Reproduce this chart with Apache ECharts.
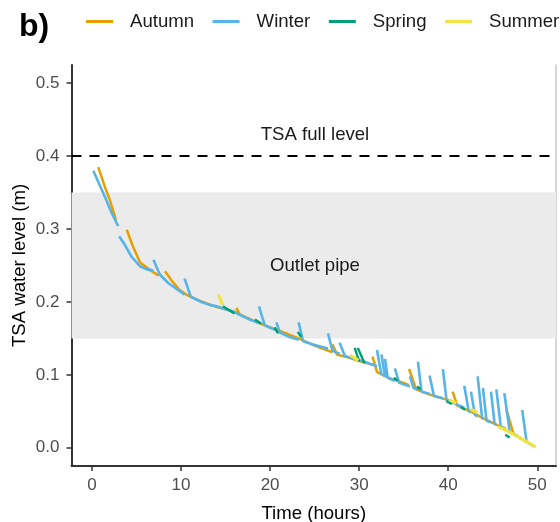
<!DOCTYPE html>
<html>
<head>
<meta charset="utf-8">
<script src="https://cdn.jsdelivr.net/npm/echarts@6/dist/echarts.min.js"></script>
<style>
html,body{margin:0;padding:0;background:#fff;}
#chart{width:560px;height:522px;}
</style>
</head>
<body>
<div id="chart"></div>
<script>
// ---- data (time in hours, TSA water level in m); null = break in line ----
const seasons = ['Autumn', 'Winter', 'Spring', 'Summer'];
const seasonColors = ['#E69F00', '#56B4E9', '#009E73', '#F0E442'];

const autumn = [
  [0.7,0.385],[1.5,0.356],[2.0,0.340],[2.7,0.312],null,
  [3.9,0.299],[4.6,0.276],[5.4,0.254],[6.5,0.244],[7.5,0.236],null,
  [8.2,0.242],[8.9,0.230],[9.8,0.217],[10.6,0.210],[12.0,0.202],[14.0,0.193],[16.2,0.186],null,
  [16.2,0.192],[16.6,0.183],[18.0,0.175],[20.0,0.165],[22.0,0.156],[23.0,0.151],[25.0,0.140],[27.0,0.131],null,
  [27.0,0.142],[27.5,0.128],[28.7,0.124],[30.3,0.118],[31.5,0.114],null,
  [31.5,0.125],[32.0,0.104],[32.6,0.100],[33.5,0.095],[35.0,0.089],[35.6,0.086],null,
  [35.6,0.108],[36.4,0.080],[37.9,0.073],[39.8,0.066],[40.5,0.062],null,
  [40.5,0.077],[41.0,0.058],[42.5,0.050],[44.0,0.040],[45.5,0.031],[46.5,0.026],null,
  [46.5,0.054],[47.3,0.020],[48.5,0.010],[49.7,0.002]
];

const winter = [
  [0.15,0.380],[1.46,0.344],[2.21,0.322],[2.95,0.304],null,
  [3.05,0.290],[3.70,0.278],[4.45,0.262],[5.38,0.249],[6.1,0.245],[6.9,0.243],null,
  [6.9,0.258],[7.6,0.238],[8.55,0.226],[9.5,0.218],[10.4,0.210],null,
  [10.4,0.232],[11.1,0.207],[12.3,0.200],[13.2,0.196],[14.0,0.194],[15.0,0.190],[15.84,0.187],
  [16.8,0.181],[17.7,0.176],[18.75,0.171],null,
  [18.75,0.194],[19.4,0.168],[20.7,0.161],null,
  [20.7,0.172],[21.1,0.158],[22.2,0.152],[23.2,0.148],null,
  [23.2,0.172],[23.7,0.146],[25.0,0.141],[26.5,0.136],null,
  [26.5,0.157],[27.0,0.133],[27.8,0.129],null,
  [27.8,0.144],[28.4,0.126],[29.5,0.122],[30.6,0.118],[31.5,0.114],[32.0,0.112],null,
  [32.0,0.134],[32.5,0.100],null,
  [32.5,0.128],[32.9,0.097],null,
  [32.9,0.122],[33.2,0.096],[34.0,0.092],null,
  [34.0,0.109],[34.5,0.089],[35.7,0.084],null,
  [35.7,0.098],[36.1,0.082],[36.6,0.080],null,
  [36.6,0.118],[37.0,0.077],[37.9,0.074],null,
  [37.9,0.099],[38.4,0.071],[39.4,0.068],null,
  [39.4,0.108],[39.8,0.066],[40.8,0.060],[41.8,0.055],null,
  [41.8,0.085],[42.3,0.050],[42.55,0.049],null,
  [42.55,0.077],[43.0,0.045],[43.3,0.043],null,
  [43.3,0.098],[43.8,0.041],[43.9,0.039],null,
  [43.9,0.082],[44.3,0.037],[44.8,0.035],null,
  [44.8,0.077],[45.2,0.033],[45.4,0.032],null,
  [45.4,0.080],[45.9,0.029],[46.3,0.027],null,
  [46.3,0.075],[46.9,0.022],[47.5,0.018],[48.3,0.012],null,
  [48.3,0.052],[48.8,0.008],[49.5,0.003]
];

const spring = [
  [14.7,0.194],[15.5,0.188],[16.0,0.184],null,
  [18.3,0.176],[19.0,0.170],null,
  [20.5,0.165],[20.9,0.157],null,
  [23.1,0.159],[23.5,0.152],null,
  [29.5,0.137],[30.0,0.118],null,
  [29.85,0.137],[30.6,0.116],null,
  [33.9,0.096],[34.3,0.092],null,
  [36.5,0.084],[36.9,0.080],null,
  [39.8,0.064],[40.4,0.060],null,
  [41.4,0.056],[41.9,0.052],null,
  [46.4,0.018],[46.9,0.014]
];

const summer = [
  [14.2,0.210],[14.7,0.195],null,
  [29.0,0.127],[29.9,0.120],null,
  [40.1,0.066],[40.9,0.061],null,
  [42.5,0.053],[43.3,0.048],null,
  [45.6,0.029],[46.5,0.024],[47.4,0.018],[48.4,0.011],[49.3,0.005],[49.8,0.001]
];

const seasonData = [autumn, winter, spring, summer];
const seasonWidths = [2.5, 2.6, 2.4, 3.2];

const xTicks = [0, 10, 20, 30, 40, 50];
const yTicks = [0, 0.1, 0.2, 0.3, 0.4, 0.5];

const fullLevel = 0.4;
const outletBand = [0.15, 0.35];
const annotations = [
  {text: 'TSA full level', t: 25.04, level: 0.429},
  {text: 'Outlet pipe', t: 25.04, level: 0.249}
];

// ---- chart ----
const FONT = 'Liberation Sans, Arial, Helvetica, sans-serif';
const chart = echarts.init(document.getElementById('chart'), null, {renderer: 'canvas'});

const toSeriesData = arr => arr.map(p => p === null ? ['-', '-'] : p);

const series = [{
  name: '__ref',
  type: 'line',
  data: [],
  z: 1,
  silent: true,
  markArea: {
    silent: true,
    itemStyle: {color: '#ebebeb'},
    data: [[{yAxis: outletBand[0]}, {yAxis: outletBand[1]}]]
  },
  markLine: {
    silent: true,
    symbol: 'none',
    label: {show: false},
    lineStyle: {color: '#000', width: 2, type: [10, 8]},
    data: [{yAxis: fullLevel}]
  },
  markPoint: {
    silent: true,
    symbol: 'circle',
    symbolSize: 0,
    label: {
      show: true,
      position: 'inside',
      color: '#1a1a1a',
      fontSize: 18.6,
      fontFamily: FONT,
      formatter: p => p.name
    },
    data: annotations.map(a => ({name: a.text, coord: [a.t, a.level]}))
  }
}];

seasons.forEach((s, i) => {
  series.push({
    name: s,
    type: 'line',
    data: toSeriesData(seasonData[i]),
    showSymbol: false,
    symbol: 'none',
    connectNulls: false,
    color: seasonColors[i],
    lineStyle: {color: seasonColors[i], width: seasonWidths[i]},
    z: 3 + i
  });
});

chart.setOption({
  animation: false,
  backgroundColor: '#fff',
  title: {
    text: 'b)',
    left: 14,
    top: 6,
    textStyle: {fontSize: 32, fontWeight: 'bold', color: '#000', fontFamily: FONT}
  },
  legend: {
    data: seasons,
    left: 86,
    top: 12,
    width: 520,
    padding: 0,
    icon: 'rect',
    itemWidth: 27,
    itemHeight: 3,
    itemGap: 18.5,
    textStyle: {fontSize: 18.6, color: '#1a1a1a', fontFamily: FONT, padding: [0, 0, 0, 12]}
  },
  grid: {left: 71.5, right: 4, top: 65, bottom: 56, containLabel: false, outerBoundsMode: 'none'},
  xAxis: {
    type: 'value',
    min: -2.3,
    max: 52.1,
    name: 'Time (hours)',
    nameLocation: 'middle',
    nameGap: 38,
    nameMoveOverlap: false,
    nameTextStyle: {fontSize: 18.6, color: '#000', fontFamily: FONT},
    axisLine: {show: true, onZero: false, lineStyle: {color: '#333', width: 2}},
    axisTick: {show: true, length: 5, lineStyle: {color: '#333', width: 1.5}, customValues: xTicks},
    axisLabel: {fontSize: 17, color: '#4d4d4d', fontFamily: FONT, margin: 11, customValues: xTicks},
    splitLine: {show: false}
  },
  yAxis: [{
    type: 'value',
    min: -0.025,
    max: 0.525,
    name: 'TSA water level (m)',
    nameLocation: 'middle',
    nameGap: 42,
    nameMoveOverlap: false,
    nameTextStyle: {fontSize: 18.6, color: '#000', fontFamily: FONT},
    axisLine: {show: true, onZero: false, lineStyle: {color: '#333', width: 2}},
    axisTick: {show: true, length: 5, lineStyle: {color: '#333', width: 1.5}, customValues: yTicks},
    axisLabel: {fontSize: 17, color: '#4d4d4d', fontFamily: FONT, margin: 12,
                customValues: yTicks, formatter: v => v.toFixed(1)},
    splitLine: {show: false}
  }, {
    type: 'value',
    position: 'right',
    min: -0.025,
    max: 0.525,
    axisLine: {show: true, onZero: false, lineStyle: {color: '#c8c8c8', width: 1.5}},
    axisTick: {show: false},
    axisLabel: {show: false},
    splitLine: {show: false}
  }],
  series: series
});
</script>
</body>
</html>
